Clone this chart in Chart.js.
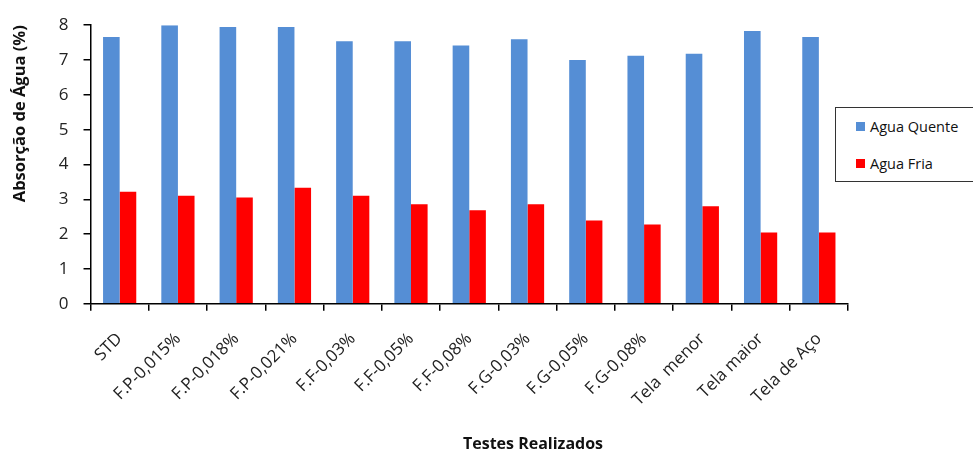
<!DOCTYPE html>
<html>
<head>
<meta charset="utf-8">
<script src="https://cdn.jsdelivr.net/npm/chart.js@4"></script>
<style>
  html, body { margin: 0; padding: 0; background: #fff; }
  #wrap { position: relative; width: 973px; height: 454px; }
  #legend {
    position: absolute; left: 835px; top: 107px; width: 140px; height: 75px;
    border: 1.5px solid #333; background: #fff; box-sizing: border-box;
    font-family: "Open Sans", sans-serif; font-size: 14.5px; color: #111;
  }
  #legend .item { position: absolute; left: 20px; display: flex; align-items: center; }
  #legend .sw { width: 9px; height: 9px; margin-right: 5px; }
  #xtitle {
    position: absolute; left: 433px; width: 200px; top: 432px; text-align: center;
    font-family: "Open Sans", sans-serif; font-size: 16px; font-weight: bold; color: #111;
  }
</style>
</head>
<body>
<div id="wrap">
  <canvas id="chart" width="973" height="454"></canvas>
  <div id="legend">
    <div class="item" style="top:9px"><span class="sw" style="background:#558ED5"></span>Agua Quente</div>
    <div class="item" style="top:46px"><span class="sw" style="background:#FF0000"></span>Agua Fria</div>
  </div>
  <div id="xtitle">Testes Realizados</div>
</div>
<script>
// Data
const categories = ['STD', 'F.P-0,015%', 'F.P-0,018%', 'F.P-0,021%', 'F.F-0,03%', 'F.F-0,05%', 'F.F-0,08%',
  'F.G-0,03%', 'F.G-0,05%', 'F.G-0,08%', 'Tela  menor', 'Tela maior', 'Tela de Aço'];
const aguaQuente = [7.66, 8.0, 7.95, 7.95, 7.54, 7.54, 7.42, 7.6, 7.0, 7.12, 7.18, 7.83, 7.66];
const aguaFria = [3.22, 3.1, 3.05, 3.33, 3.1, 2.86, 2.69, 2.86, 2.39, 2.28, 2.8, 2.05, 2.05];
const yTicks = [0, 1, 2, 3, 4, 5, 6, 7, 8];

const fontFam = '"Open Sans", sans-serif';

const ctx = document.getElementById('chart').getContext('2d');
new Chart(ctx, {
    type: 'bar',
    data: {
        labels: categories,
        datasets: [{
            label: 'Agua Quente',
            data: aguaQuente,
            backgroundColor: '#558ED5',
            categoryPercentage: 0.57,
            barPercentage: 1
        }, {
            label: 'Agua Fria',
            data: aguaFria,
            backgroundColor: '#FF0000',
            categoryPercentage: 0.57,
            barPercentage: 1
        }]
    },
    options: {
        responsive: false,
        animation: false,
        layout: { padding: { top: 12, right: 125, left: 10, bottom: 26 } },
        plugins: {
            legend: { display: false },
            tooltip: { enabled: false }
        },
        scales: {
            x: {
                grid: { display: true, drawOnChartArea: false, drawTicks: true, tickLength: 7, color: '#000', lineWidth: 1.5 },
                border: { color: '#000', width: 1.5 },
                ticks: {
                    color: '#222',
                    font: { family: fontFam, size: 17 },
                    minRotation: 45,
                    maxRotation: 45,
                    autoSkip: false,
                    padding: 18
                }
            },
            y: {
                min: 0,
                max: 8,
                afterBuildTicks: axis => { axis.ticks = yTicks.map(v => ({ value: v })); },
                grid: { display: true, drawOnChartArea: false, drawTicks: true, tickLength: 7, color: '#000', lineWidth: 1.5 },
                border: { color: '#000', width: 1.5 },
                ticks: {
                    color: '#222',
                    font: { family: fontFam, size: 17 },
                    padding: 15
                },
                title: {
                    display: true,
                    text: 'Absorção de Água (%)',
                    color: '#111',
                    align: 'end',
                    font: { family: fontFam, size: 16.5, weight: 'bold' },
                    padding: { top: 0, bottom: 14 }
                }
            }
        }
    }
});
</script>
</body>
</html>
